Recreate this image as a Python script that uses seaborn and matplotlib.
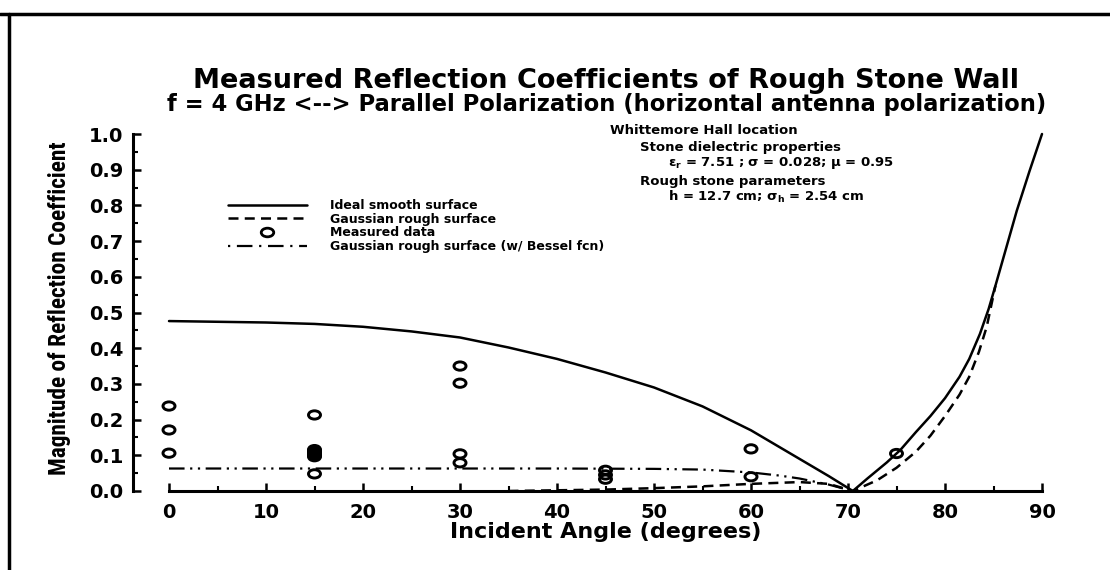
import numpy as np
import pandas as pd
import matplotlib
matplotlib.use("Agg")
import matplotlib.pyplot as plt
import seaborn as sns
from matplotlib import font_manager
from matplotlib.path import Path
from matplotlib.transforms import Affine2D
from matplotlib.lines import Line2D

# values
ideal_angle = [0, 10, 15, 20, 25, 30, 35, 40, 45, 50, 55, 60, 65, 68, 70.5,
               72, 74, 75.4, 77, 78.5, 80, 81.5, 82.5, 83.6, 84.5, 85.2,
               86.3, 87.4, 88.7, 90]
ideal_mag = [0.476, 0.472, 0.468, 0.46, 0.447, 0.43, 0.402, 0.37, 0.332,
             0.29, 0.237, 0.17, 0.09, 0.042, 0.0,
             0.035, 0.08, 0.115, 0.165, 0.21, 0.26, 0.32, 0.37, 0.44, 0.51,
             0.575, 0.68, 0.785, 0.895, 1.0]

rough_angle = [35, 40, 45, 50, 55, 60, 65, 68, 70.5,
               73, 75, 77, 78.5, 80, 81.5, 82.5, 83.5, 84.3, 85.2]
rough_mag = [0.0, 0.002, 0.004, 0.008, 0.013, 0.02, 0.025, 0.02, 0.0,
             0.03, 0.065, 0.11, 0.155, 0.21, 0.27, 0.32, 0.39, 0.46, 0.575]

bessel_angle = [0, 10, 20, 30, 40, 50, 55, 60, 63, 65, 68, 70.5]
bessel_mag = [0.063, 0.063, 0.063, 0.063, 0.063, 0.062, 0.06, 0.052,
              0.043, 0.035, 0.018, 0.0]

meas_angle = [0, 0, 0, 15, 15, 15, 15, 15, 15, 15, 15, 30, 30, 30, 30,
              45, 45, 45, 60, 60, 75]
meas_mag = [0.238, 0.171, 0.106, 0.213, 0.116, 0.112, 0.108, 0.104, 0.10,
            0.096, 0.048, 0.35, 0.302, 0.104, 0.079, 0.058, 0.045, 0.033,
            0.118, 0.04, 0.105]

legend_labels = ["Ideal smooth surface", "Gaussian rough surface",
                 "Measured data", "Gaussian rough surface (w/ Bessel fcn)"]

info_lines = ["Whittemore Hall location",
              "Stone dielectric properties",
              "ε$_r$ = 7.51 ; σ = 0.028; μ = 0.95",
              "Rough stone parameters",
              "h = 12.7 cm; σ$_h$ = 2.54 cm"]

sns.set_theme(style="ticks")
plt.rcParams["font.family"] = ["DejaVu Sans"]
plt.rcParams["font.weight"] = "bold"
plt.rcParams["mathtext.default"] = "bf"
for k in ("text.color", "axes.labelcolor", "xtick.color", "ytick.color",
          "axes.edgecolor"):
    plt.rcParams[k] = "black"

# a narrow face for the y label if one is installed
installed = {f.name for f in font_manager.fontManager.ttflist}
narrow = [n for n in ("Liberation Sans Narrow", "DejaVu Sans Condensed",
                      "Roboto Condensed", "Open Sans Condensed")
          if n in installed]
ylab_family = narrow[:1] + ["DejaVu Sans"]

W, H = 1110, 570
fig = plt.figure(figsize=(W / 100, H / 100), dpi=100)
fig.patch.set_facecolor("white")
ax = fig.add_axes([169 / W, 1 - 491 / H, (1042 - 169) / W, (491 - 134) / H])
ax.set_facecolor("white")

ideal = pd.DataFrame({"angle": ideal_angle, "mag": ideal_mag})
rough = pd.DataFrame({"angle": rough_angle, "mag": rough_mag})
bessel = pd.DataFrame({"angle": bessel_angle, "mag": bessel_mag})
meas = pd.DataFrame({"angle": meas_angle, "mag": meas_mag})

sns.lineplot(data=ideal, x="angle", y="mag", ax=ax, color="black", lw=1.8,
             sort=False, clip_on=False)
sns.lineplot(data=rough, x="angle", y="mag", ax=ax, color="black", lw=1.8,
             sort=False, linestyle=(0, (4, 2.5)), clip_on=False)
sns.lineplot(data=bessel, x="angle", y="mag", ax=ax, color="black", lw=1.6,
             sort=False, linestyle=(0, (7, 2.5, 1, 2.5, 1, 2.5)), clip_on=False)

# oval "o" marker like the plotter symbol
oval = Path.unit_circle().transformed(Affine2D().scale(1.45, 1.0))
sns.scatterplot(data=meas, x="angle", y="mag", ax=ax, marker=oval, s=75,
                facecolor="none", edgecolor="black", linewidth=2.1,
                clip_on=False, zorder=5)

ax.set_xlim(0, 90)
ax.set_ylim(0, 1)
ax.set_xticks(np.arange(0, 91, 10))
ax.set_xticks(np.arange(0, 91, 5), minor=True)
ax.set_yticks(np.arange(0, 1.01, 0.1))
ax.set_yticks(np.arange(0, 1.01, 0.05), minor=True)
ax.set_yticklabels([f"{v:.1f}" for v in np.arange(0, 1.01, 0.1)])
sns.despine(ax=ax)
ax.spines["left"].set_position(("outward", 26))
for s in ("left", "bottom"):
    ax.spines[s].set_linewidth(2.2)
ax.tick_params(which="major", direction="in", length=6, width=1.8,
               labelsize=14)
ax.tick_params(which="minor", direction="in", length=3.5, width=1.5)
ax.tick_params(axis="y", which="major", pad=7)
ax.tick_params(axis="x", which="major", pad=9)
for lab in ax.get_xticklabels() + ax.get_yticklabels():
    lab.set_fontweight("bold")

ax.set_xlabel("Incident Angle (degrees)", fontsize=16, fontweight="bold",
              labelpad=0)
ylab = ax.set_ylabel("Magnitude of Reflection Coefficient", fontsize=14,
                     fontweight="bold", family=ylab_family)
ax.yaxis.set_label_coords((71 - 169) / 873, 0.513)

fig.text(606 / W, 1 - 88 / H,
         "Measured Reflection Coefficients of Rough Stone Wall",
         ha="center", va="baseline", fontsize=19.5, fontweight="bold")
fig.text(607 / W, 1 - 111 / H,
         "f = 4 GHz <--> Parallel Polarization (horizontal antenna polarization)",
         ha="center", va="baseline", fontsize=16.3, fontweight="bold")

info_x = [610, 640, 668, 640, 668]
info_y = [131, 147, 163, 181, 197]
for t, x, y in zip(info_lines, info_x, info_y):
    fig.text(x / W, 1 - y / H, t, ha="left", va="center", fontsize=9.5,
             fontweight="bold")

handles = [
    Line2D([], [], color="black", lw=1.8),
    Line2D([], [], color="black", lw=1.8, linestyle=(0, (4, 2.5))),
    Line2D([], [], color="black", lw=0, marker=oval, markersize=9,
           markerfacecolor="none", markeredgewidth=2.0),
    Line2D([], [], color="black", lw=1.6, linestyle=(0, (1, 3, 7, 3))),
]
ax.legend(handles, legend_labels, loc="upper left",
          bbox_to_anchor=(228 / W, 1 - 199 / H), bbox_transform=fig.transFigure,
          frameon=False, handlelength=6.3, handletextpad=1.9,
          labelspacing=0.05, borderpad=0, borderaxespad=0,
          prop={"weight": "bold", "size": 9})

# stretch/shrink the y label so it spans the same length as on the scan
fig.canvas.draw()
ext = ylab.get_window_extent(fig.canvas.get_renderer())
ylab.set_fontsize(ylab.get_fontsize() * 336 / ext.height)

# scanned page border
fig.add_artist(Line2D([0, 1], [1 - 14 / H, 1 - 14 / H], color="black", lw=2.5))
fig.add_artist(Line2D([9 / W, 9 / W], [0, 1 - 14 / H], color="black", lw=2.5))

fig.savefig("out.png", dpi=100)
